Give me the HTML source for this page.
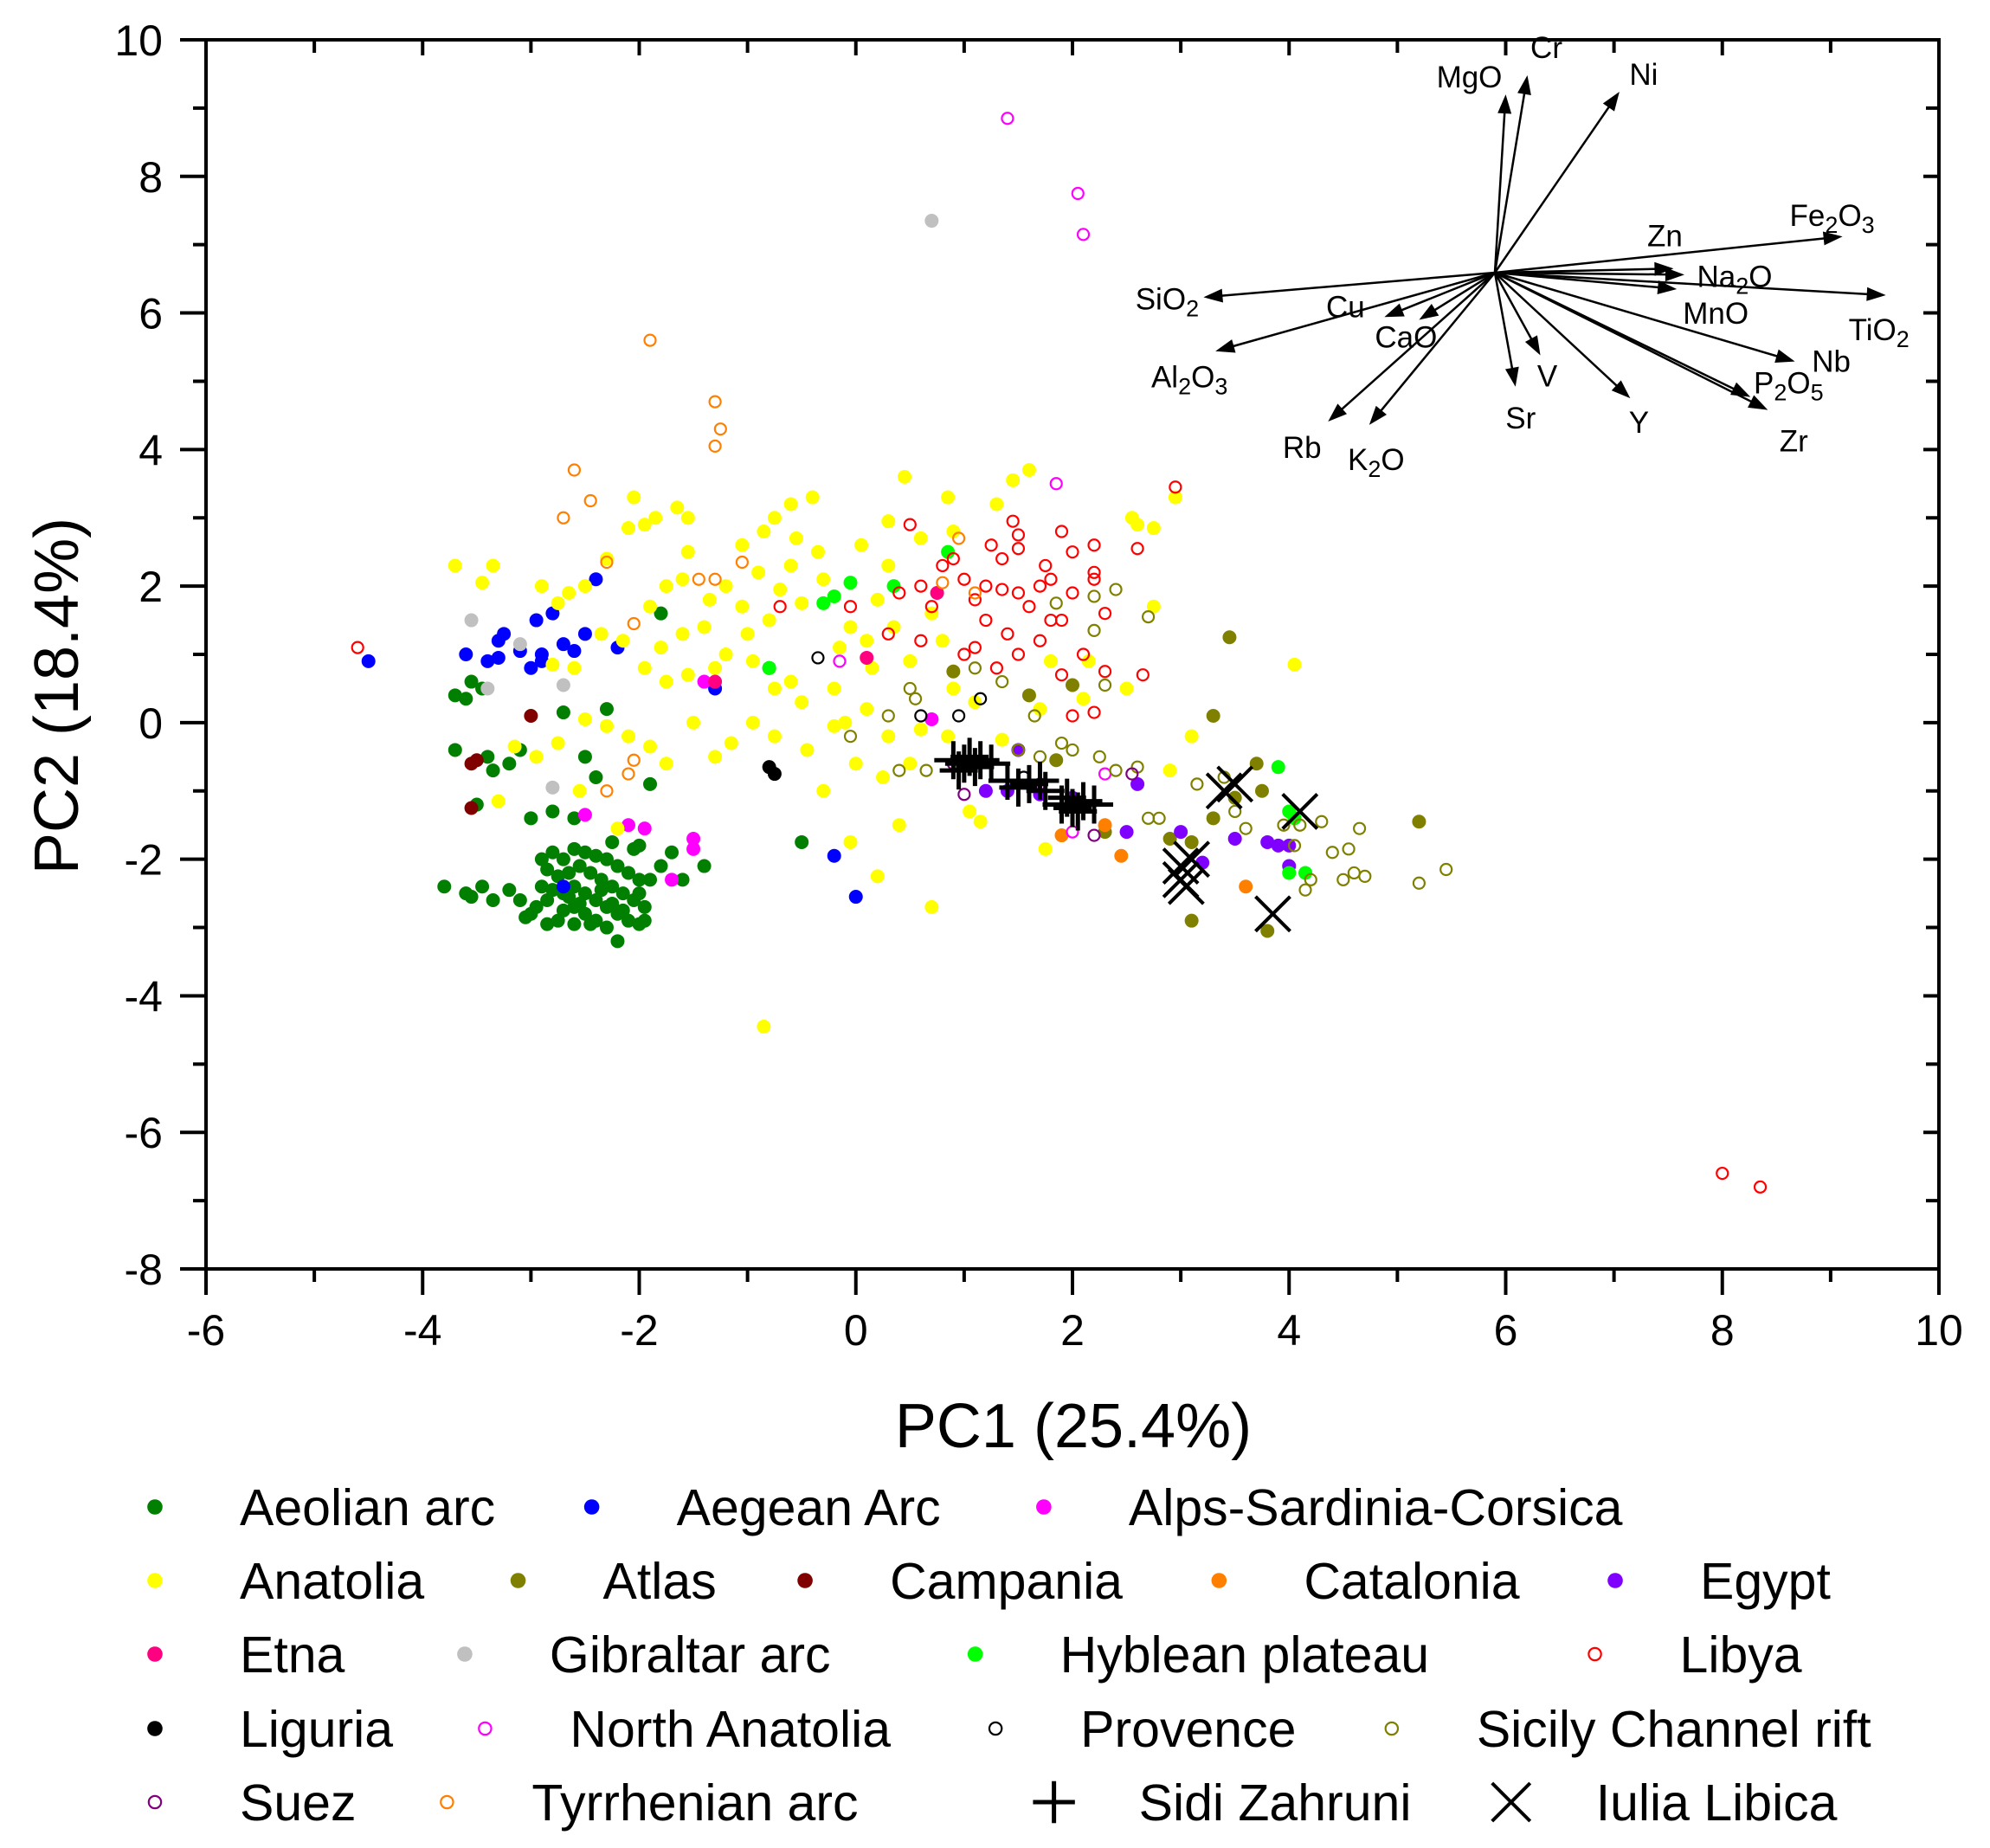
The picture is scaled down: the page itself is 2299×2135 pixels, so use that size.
<!DOCTYPE html>
<html><head><meta charset="utf-8"><style>
html,body{margin:0;padding:0;background:#fff;}
svg{display:block;font-family:"Liberation Sans",Arial,sans-serif;}
</style></head><body>
<svg id="chart" width="2299" height="2135" viewBox="0 0 2299 2135" xmlns="http://www.w3.org/2000/svg">
<rect width="2299" height="2135" fill="#fff"/>
<g id="points"></g>
<g id="vectors"></g>
<g id="axes"></g>
<g id="legend"></g>
</svg>
<script>
const xTicks=[-6,-4,-2,0,2,4,6,8,10];
const yTicks=[-8,-6,-4,-2,0,2,4,6,8,10];
const vecNames=["MgO","Cr","Ni","Fe2O3","Zn","Na2O","TiO2","MnO","Nb","P2O5","Zr","Y","V","Sr","K2O","Rb","Al2O3","SiO2","Cu","CaO"];
const vecX=[6.0,6.2,7.05,9.11,7.55,7.65,9.51,7.58,8.67,8.26,8.42,7.15,6.32,6.09,4.74,4.36,3.32,3.21,4.88,5.2];
const vecY=[9.2,9.48,9.24,7.12,6.65,6.56,6.26,6.35,5.29,4.77,4.58,4.75,5.38,4.92,4.36,4.41,5.44,6.23,5.94,5.9];
const vecOrigin=[5.9,6.59];
const aeolianX=[-2.8,-2.7,-2.6,-2.5,-2.4,-2.3,-2.2,-2.1,-2.0,-2.85,-2.75,-2.65,-2.55,-2.45,-2.35,-2.25,-2.15,-2.05,-1.95,-2.9,-2.8,-2.7,-2.6,-2.5,-2.4,-2.3,-2.2,-2.1,-2.0,-2.95,-2.85,-2.7,-2.6,-2.5,-2.4,-2.3,-2.2,-2.45,-2.55,-2.65,-2.35,-2.25,-2.15,-2.75,-3.05,-3.2,-3.35,-3.45,-3.55,-3.1,-2.9,-2.0,-1.9,-2.05,-2.25,-2.6,-2.85,-1.95,-3.7,-3.6,-3.55,-3.45,-3.35,-3.2,-3.1,-3.4,-3.7,-3.5,-2.7,-2.5,-2.4,-2.3,-2.6,-2.8,-3.0,-2.0,-1.9,-1.8,-1.8,-1.6,-1.4,-1.7,-0.5,-0.8,-3.8,-3.6,-3.0];
const aeolianY=[-1.9,-2.0,-1.85,-1.9,-1.95,-2.0,-2.1,-2.2,-2.3,-2.15,-2.25,-2.2,-2.1,-2.2,-2.3,-2.4,-2.5,-2.6,-2.7,-2.4,-2.45,-2.5,-2.4,-2.5,-2.6,-2.7,-2.8,-2.9,-2.95,-2.7,-2.6,-2.75,-2.7,-2.8,-2.9,-3.0,-3.2,-2.95,-2.65,-2.55,-2.45,-2.65,-2.75,-2.9,-2.85,-2.45,-2.6,-2.4,-2.55,-2.6,-2.0,-2.5,-2.3,-1.85,-1.75,-2.95,-2.95,-2.9,0.4,0.35,0.6,0.5,-0.7,-0.6,-0.4,-0.5,-0.4,-1.2,0.15,-0.5,-0.8,0.2,-1.4,-1.3,-1.4,-1.8,-0.9,1.6,-2.1,-2.3,-2.1,-1.9,-1.75,0.8,-2.4,-2.5,-2.8];
const aegeanX=[-4.5,-3.6,-3.4,-3.3,-3.25,-3.1,-3.0,-2.9,-2.95,-2.8,-2.6,-2.5,-2.4,-2.2,-2.7,-2.9,-3.3,-1.3,-0.2,0.0,-2.7];
const aegeanY=[0.9,1.0,0.9,1.2,1.3,1.05,0.8,1.0,1.5,1.6,1.05,1.3,2.1,1.1,1.15,0.9,0.95,0.5,-1.95,-2.55,-2.4];
const alpsX=[-2.5,-2.1,-1.95,-1.5,-1.5,-1.7,-1.4,0.7];
const alpsY=[-1.35,-1.5,-1.55,-1.7,-1.85,-2.3,0.6,0.05];
const anatoliaX=[-3.7,-3.45,-3.35,-2.9,-2.75,-2.65,-2.5,-2.3,-2.1,-1.95,-1.85,-2.05,-1.65,-1.55,-1.6,-1.35,-1.2,-1.05,-0.85,-0.75,-0.6,-0.4,-0.55,-0.35,-0.6,-0.9,-0.7,-0.5,-0.8,-1.0,-1.2,-1.4,-1.6,-1.8,-1.95,-1.75,-1.55,-1.3,-0.95,-0.75,-0.5,-0.2,-0.15,-0.05,0.2,0.3,0.6,0.45,1.45,1.6,1.3,0.9,0.7,0.35,0.1,0.5,0.8,0.15,0.9,1.1,0.85,0.5,0.3,0.1,-0.2,-0.45,-0.75,-0.95,-1.15,-1.3,-1.5,-1.75,-1.9,-2.1,-2.3,-2.5,-2.75,-2.95,-3.15,-2.6,-2.8,-2.35,-2.15,-1.9,-2.55,-3.3,-2.2,-0.05,0.4,0.7,-0.85,0.2,-0.3,1.15,1.75,2.75,2.95,2.6,4.05,3.1,2.75,2.5,2.9,2.1,1.7,1.35,1.05,0.6,0.0,0.25,-0.6,-1.05,-0.3,0.3,0.85,-1.55,-1.75,0.05,-0.1,1.8,2.15,2.55];
const anatoliaY=[2.3,2.05,2.3,2.0,1.75,1.9,2.0,2.4,2.85,2.9,3.0,3.3,3.15,2.5,2.1,1.8,2.0,2.6,2.8,3.0,3.2,3.3,2.7,2.5,2.3,2.2,1.95,1.75,1.5,1.3,1.0,1.4,1.3,1.1,0.8,0.6,0.7,0.8,0.9,0.5,0.3,0.5,1.1,1.4,1.8,2.3,2.7,3.6,3.55,3.7,3.2,2.8,1.6,1.4,1.2,0.9,1.2,0.8,0.5,0.3,-0.2,-0.6,-0.2,0.2,-0.05,-0.4,-0.2,0.0,-0.3,-0.5,0.0,-0.6,-0.35,-0.2,-0.05,0.05,-0.3,-0.5,-0.35,0.8,0.85,1.3,1.2,1.7,-1.0,-1.15,-1.55,-1.75,-1.5,-2.7,-4.45,-2.25,-1.0,-1.45,-1.85,2.85,3.3,2.9,0.85,-0.2,1.7,0.5,-0.7,0.35,0.2,-0.25,-1.3,-0.1,-0.6,-0.8,0.6,1.7,2.1,2.95,3.3,3.0,2.0,2.6,0.0,0.9,0.9,3.0];
const atlasX=[3.45,3.3,2.0,1.6,0.9,3.7,3.75,3.1,2.9,3.1,3.8,5.2,3.3,3.5,1.85,2.3];
const atlasY=[1.25,0.1,0.55,0.4,0.75,-0.6,-1.0,-1.75,-1.7,-2.9,-3.05,-1.45,-1.4,-1.1,-0.55,-1.6];
const campaniaX=[-3.5,-3.55,-3.0,-3.55];
const campaniaY=[-0.55,-1.25,0.1,-0.6];
const cataloniaX=[2.45,1.9,3.6,2.3];
const cataloniaY=[-1.95,-1.65,-2.4,-1.5];
const egyptX=[1.5,1.4,1.2,2.6,2.5,3.0,3.2,3.5,3.8,3.9,4.0,4.0,2.0,1.7];
const egyptY=[-0.4,-1.0,-1.0,-0.9,-1.6,-1.6,-2.05,-1.7,-1.75,-1.8,-1.8,-2.1,-1.1,-1.05];
const etnaX=[-1.3,0.1,0.75];
const etnaY=[0.6,0.95,1.9];
const gibraltarX=[-3.55,-3.4,-3.1,-2.7,-2.8,0.7];
const gibraltarY=[1.5,0.5,1.15,0.55,-0.95,7.35];
const hybleanX=[-0.3,-0.2,-0.05,0.35,0.85,3.9,4.0,4.05,4.0,4.15,-0.8];
const hybleanY=[1.75,1.85,2.05,2.0,2.5,-0.65,-1.3,-1.4,-2.2,-2.2,0.8];
const liguriaX=[-0.8,-0.75];
const liguriaY=[-0.65,-0.75];
const libyaX=[-4.6,8.0,8.35,2.95,1.45,1.5,1.5,1.75,2.0,2.2,2.6,0.5,0.8,0.9,0.4,0.6,1.0,1.1,1.2,1.35,1.5,1.6,1.8,1.9,1.7,2.2,2.0,2.3,2.1,1.2,1.4,1.1,1.5,1.3,0.7,0.3,-0.7,-0.05,2.3,2.65,2.2,1.9,1.7,1.25,1.35,1.9,2.2,0.6,1.0,2.0,1.8];
const libyaY=[1.1,-6.6,-6.8,3.45,2.95,2.75,2.55,2.3,2.5,2.1,2.55,2.9,2.3,2.4,1.9,2.0,2.1,1.8,2.0,1.95,1.9,1.7,1.5,1.5,2.0,2.2,1.9,1.6,1.0,1.5,1.3,1.1,1.0,0.8,1.7,1.3,1.7,1.7,0.75,0.7,0.15,0.7,1.2,2.6,2.4,2.8,2.6,1.2,1.0,0.1,2.1];
const nAnatoliaX=[1.4,2.05,2.1,1.85,-0.15,2.0,2.3];
const nAnatoliaY=[8.85,7.75,7.15,3.5,0.9,-1.6,-0.75];
const provenceX=[-0.35,0.6,0.95,1.15,1.55];
const provenceY=[0.95,0.1,0.1,0.35,-0.8];
const sicilyX=[1.5,1.7,1.9,2.0,1.65,2.4,2.2,2.7,2.2,1.85,0.5,0.55,0.4,0.65,2.25,2.4,2.6,2.7,2.8,3.15,3.4,3.5,3.6,3.95,4.1,4.3,4.05,4.2,4.4,4.5,4.6,4.7,4.55,4.65,5.2,5.45,4.15,-0.05,0.3,1.35,1.1,2.3];
const sicilyY=[-0.4,-0.5,-0.3,-0.4,0.1,1.95,1.85,1.55,1.35,1.75,0.5,0.35,-0.7,-0.7,-0.5,-0.7,-0.65,-1.4,-1.4,-0.9,-0.8,-1.3,-1.55,-1.5,-1.5,-1.45,-1.8,-2.3,-1.9,-2.3,-2.2,-2.25,-1.85,-1.55,-2.35,-2.15,-2.45,-0.2,0.1,0.6,0.8,0.55];
const suezX=[1.0,2.2,2.55,1.7,0.9];
const suezY=[-1.05,-1.65,-0.75,-0.9,-0.6];
const tyrrhX=[-1.9,-1.3,-1.25,-1.3,-2.6,-2.45,-2.7,-2.3,-2.05,-1.45,-1.05,-2.05,-2.1,-2.3,0.8,0.95,1.1,-1.3];
const tyrrhY=[5.6,4.7,4.3,4.05,3.7,3.25,3.0,2.35,1.45,2.1,2.35,-0.55,-0.75,-1.0,2.05,2.7,1.9,2.1];
const sidiX=[0.9,1.0,1.05,1.1,1.15,0.95,1.4,1.5,1.6,1.7,1.75,1.9,2.0,2.1,2.2,2.05,1.95,1.25];
const sidiY=[-0.55,-0.6,-0.5,-0.65,-0.55,-0.7,-0.85,-0.95,-0.9,-0.85,-1.0,-1.2,-1.25,-1.15,-1.2,-1.3,-1.1,-0.6];
const iuliaX=[3.4,3.5,4.1,3.0,3.0,3.1,3.05,3.85];
const iuliaY=[-1.0,-0.9,-1.3,-2.1,-2.3,-2.0,-2.4,-2.8];

const NS='http://www.w3.org/2000/svg';
const L=238,R=2240,T=46,B=1466;
const sx=v=>L+(v+6)/16*(R-L);
const sy=v=>T+(10-v)/18*(B-T);
function mk(tag,attrs,parent){const e=document.createElementNS(NS,tag);for(const k in attrs)e.setAttribute(k,attrs[k]);parent.appendChild(e);return e;}
const gp=document.getElementById('points');
const series=[
 ["aeolian-arc",aeolianX,aeolianY,"#007f00","fill","Aeolian arc"],
 ["aegean-arc",aegeanX,aegeanY,"#0000ff","fill","Aegean Arc"],
 ["alps-sardinia-corsica",alpsX,alpsY,"#ff00ff","fill","Alps-Sardinia-Corsica"],
 ["anatolia",anatoliaX,anatoliaY,"#ffff00","fill","Anatolia"],
 ["atlas",atlasX,atlasY,"#808000","fill","Atlas"],
 ["campania",campaniaX,campaniaY,"#800000","fill","Campania"],
 ["catalonia",cataloniaX,cataloniaY,"#ff8000","fill","Catalonia"],
 ["egypt",egyptX,egyptY,"#8000ff","fill","Egypt"],
 ["etna",etnaX,etnaY,"#ff0080","fill","Etna"],
 ["gibraltar-arc",gibraltarX,gibraltarY,"#c0c0c0","fill","Gibraltar arc"],
 ["hyblean-plateau",hybleanX,hybleanY,"#00ff00","fill","Hyblean plateau"],
 ["libya",libyaX,libyaY,"#ff0000","open","Libya"],
 ["liguria",liguriaX,liguriaY,"#000000","fill","Liguria"],
 ["north-anatolia",nAnatoliaX,nAnatoliaY,"#ff00ff","open","North Anatolia"],
 ["provence",provenceX,provenceY,"#000000","open","Provence"],
 ["sicily-channel-rift",sicilyX,sicilyY,"#808000","open","Sicily Channel rift"],
 ["suez",suezX,suezY,"#800080","open","Suez"],
 ["tyrrhenian-arc",tyrrhX,tyrrhY,"#ff8000","open","Tyrrhenian arc"],
 ["sidi-zahruni",sidiX,sidiY,"#000","plus","Sidi Zahruni"],
 ["iulia-libica",iuliaX,iuliaY,"#000","cross","Iulia Libica"]
];
function marker(type,color,x,y,parent,scale){
  let e;
  if(type==="fill"){e=mk('circle',{cx:x,cy:y,r:8*scale,fill:color},parent);}
  else if(type==="open"){e=mk('circle',{cx:x,cy:y,r:6.5*scale,fill:'none',stroke:color,'stroke-width':2.2},parent);}
  else if(type==="plus"){const s=22*scale;e=mk('path',{d:`M${x-s} ${y}H${x+s}M${x} ${y-s}V${y+s}`,stroke:color,'stroke-width':5,fill:'none'},parent);}
  else {const s=20*scale;e=mk('path',{d:`M${x-s} ${y-s}L${x+s} ${y+s}M${x-s} ${y+s}L${x+s} ${y-s}`,stroke:color,'stroke-width':4,fill:'none'},parent);}
  return e;
}
series.forEach(s=>{
  const g=mk('g',{},gp);
  
  
  for(let i=0;i<s[1].length;i++){
    const m=marker(s[4],s[3],sx(s[1][i]),sy(s[2][i]),g,1);
    
    
  }
});
// vectors
const gv=document.getElementById('vectors');
const labelOff={MgO:[-42,-8],Cr:[22,-20],Ni:[28,-8],Fe2O3:[-12,-12],Zn:[-10,-26],Na2O:[58,14],TiO2:[-8,52],MnO:[45,40],Nb:[42,12],P2O5:[44,-4],Zr:[30,48],Y:[10,40],V:[8,36],Sr:[6,48],K2O:[8,52],Rb:[-30,42],Al2O3:[-30,42],SiO2:[-42,14],Cu:[-45,0],CaO:[-15,32]};
const ox=sx(vecOrigin[0]),oy=sy(vecOrigin[1]);
vecNames.forEach((n,i)=>{
  const ex=sx(vecX[i]),ey=sy(vecY[i]);
  const ang=Math.atan2(ey-oy,ex-ox);
  const l=mk('line',{x1:ox,y1:oy,x2:ex-Math.cos(ang)*6,y2:ey-Math.sin(ang)*6,stroke:'#000','stroke-width':2.5},gv);
  
  
  const a=22,w=8;
  const bx=ex-Math.cos(ang)*a,by=ey-Math.sin(ang)*a;
  const h=mk('polygon',{points:`${ex},${ey} ${bx-Math.sin(ang)*w},${by+Math.cos(ang)*w} ${bx+Math.sin(ang)*w},${by-Math.cos(ang)*w}`,fill:'#000'},gv);
  
  
  const o=labelOff[n];
  const t=mk('text',{x:ex+o[0],y:ey+o[1],'font-size':35,'text-anchor':'middle',fill:'#000'},gv);
  
  
  const parts=n.split(/(\d)/).filter(p=>p!=="");
  parts.forEach(p=>{
    const ts=mk('tspan',{},t);
    if(/\d/.test(p)){ts.setAttribute('baseline-shift','-30%');ts.setAttribute('font-size','27');}
    ts.textContent=p;
  });
});
// axes
const ga=document.getElementById('axes');
const frame=mk('path',{d:`M${L} ${T}H${R}V${B}H${L}Z`,fill:'none',stroke:'#000','stroke-width':4},ga);


let td='';
xTicks.forEach((v,i)=>{const x=sx(v);td+=`M${x} ${B}v30M${x} ${T}v18`;if(i<xTicks.length-1){const xm=sx(v+1);td+=`M${xm} ${B}v15M${xm} ${T}v15`;}
  const t=mk('text',{x:x,y:B+88,'font-size':50,'text-anchor':'middle'},ga);
  
  
  t.textContent=v;});
yTicks.forEach((v,i)=>{const y=sy(v);td+=`M${L} ${y}h-30M${R} ${y}h-18`;if(i<yTicks.length-1){const ym=sy(v+1);td+=`M${L} ${ym}h-15M${R} ${ym}h-15`;}
  const t=mk('text',{x:188,y:y+18,'font-size':50,'text-anchor':'end'},ga);
  
  
  t.textContent=v;});
const tk=mk('path',{d:td,stroke:'#000','stroke-width':4,fill:'none'},ga);


const xt=mk('text',{x:1240,y:1672,'font-size':72,'text-anchor':'middle'},ga);


xt.textContent='PC1 (25.4%)';
const yt=mk('text',{x:0,y:0,'font-size':72,'text-anchor':'middle',transform:'translate(90,804) rotate(-90)'},ga);


yt.textContent='PC2 (18.4%)';
// legend
const gl=document.getElementById('legend');
const legRows=[0,0,0,1,1,1,1,1,2,2,2,2,3,3,3,3,4,4,4,4];
const legCol=[122,466,822,122,408,634,960,1272,122,366,768,1256,122,382,784,1096,122,352,830,1190];
const rowY=[1741,1826,1911,1997,2082];
series.forEach((s,i)=>{
  const g=mk('g',{},gl);
  
  
  const mx=legCol[i]*1.467,y=rowY[legRows[i]];
  marker(s[4],s[3],mx,y,g,1.1);
  const t=mk('text',{x:mx+98,y:y+21,'font-size':59},g);
  t.textContent=s[5];
});
</script>
</body></html>
